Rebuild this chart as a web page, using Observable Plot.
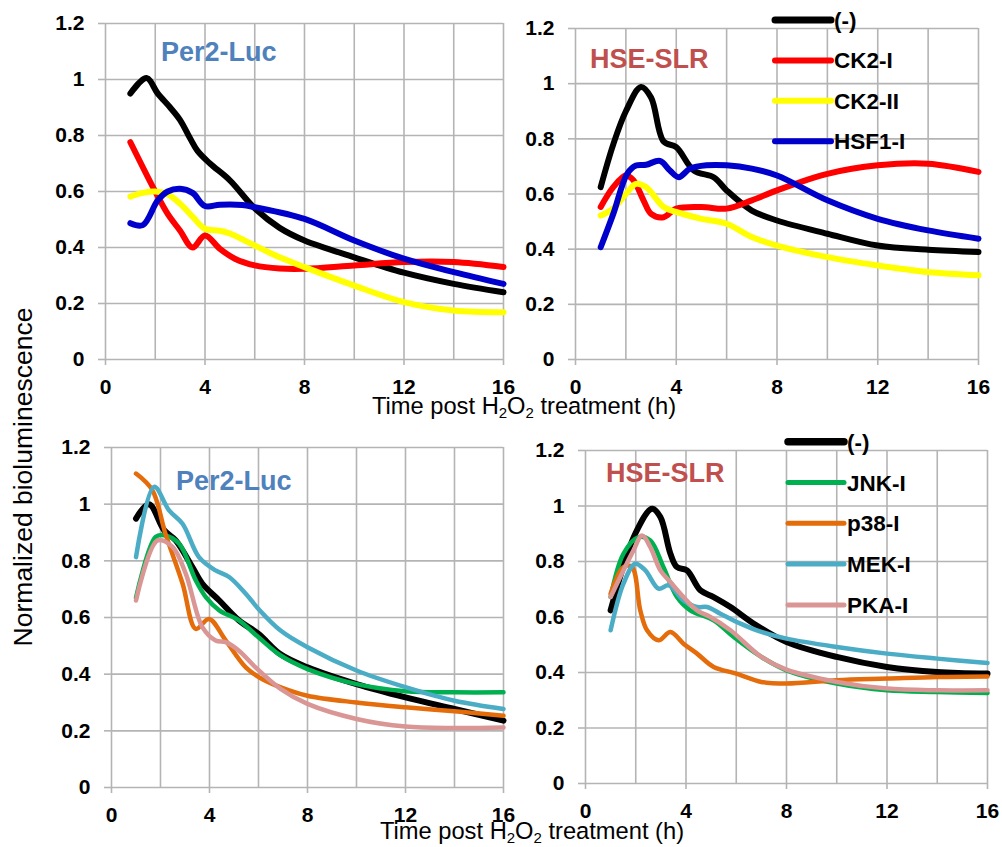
<!DOCTYPE html>
<html>
<head>
<meta charset="utf-8">
<script src="https://cdn.jsdelivr.net/npm/d3@7"></script>
<script src="https://cdn.jsdelivr.net/npm/@observablehq/plot@0.6"></script>
<style>
  body { margin: 0; background: #fff; }
  #root { position: relative; width: 1002px; height: 847px; overflow: hidden; background: #fff; }
  .panel { position: absolute; }
  .panel svg { background: transparent !important; overflow: visible; }
  #overlay { position: absolute; left: 0; top: 0; pointer-events: none; }
</style>
</head>
<body>
<div id="root"></div>
<script>
// ---------- DATA (hours, normalized bioluminescence) ----------
const xTicks = [0, 4, 8, 12, 16];
const xGrid = [0, 2, 4, 6, 8, 10, 12, 14, 16];
const yTicks = [0, 0.2, 0.4, 0.6, 0.8, 1.0, 1.2];

// Top-left: Per2-Luc, CK2 / HSF1 inhibitors
const p1Ctrl = [[1,0.95],[1.65,1.005],[2.1,0.95],[2.6,0.90],[3,0.855],[3.4,0.79],[3.7,0.745],[4.2,0.70],[5,0.64],[6,0.54],[7,0.47],[8,0.425],[10,0.365],[12,0.31],[14,0.27],[16,0.24]];
const p1CK2I = [[1,0.776],[2,0.60],[2.5,0.52],[3,0.46],[3.5,0.40],[4,0.443],[4.6,0.395],[5.2,0.36],[6,0.336],[7,0.325],[8,0.324],[10,0.336],[12,0.348],[14,0.348],[16,0.33]];
const p1CK2II = [[1,0.582],[1.5,0.595],[2,0.60],[2.5,0.59],[3,0.556],[3.5,0.51],[4,0.467],[4.6,0.46],[5,0.45],[6,0.407],[7,0.365],[8,0.33],[10,0.264],[12,0.205],[14,0.175],[16,0.169]];
const p1HSF1 = [[1,0.487],[1.5,0.48],[2.1,0.568],[2.5,0.60],[3,0.61],[3.5,0.595],[4,0.548],[4.6,0.553],[5.5,0.552],[6,0.544],[8,0.502],[10,0.425],[12,0.36],[14,0.312],[16,0.27]];

// Top-right: HSE-SLR, CK2 / HSF1 inhibitors
const p2Ctrl = [[1,0.625],[1.5,0.78],[2,0.90],[2.6,0.988],[3,0.95],[3.5,0.79],[4,0.77],[4.7,0.685],[5.5,0.66],[6,0.613],[7,0.54],[8,0.504],[10,0.456],[12,0.413],[14,0.398],[16,0.39]];
const p2CK2I = [[1,0.553],[1.5,0.625],[2,0.667],[2.3,0.65],[2.7,0.577],[3,0.528],[3.5,0.516],[4,0.547],[5,0.553],[6,0.547],[7,0.577],[8,0.613],[10,0.673],[12,0.704],[14,0.71],[16,0.68]];
const p2CK2II = [[1,0.522],[1.5,0.547],[2,0.60],[2.4,0.637],[2.8,0.625],[3.5,0.553],[4,0.535],[5,0.51],[6,0.492],[7,0.444],[8,0.413],[10,0.371],[12,0.341],[14,0.317],[16,0.305]];
const p2HSF1 = [[1,0.407],[1.5,0.528],[2.05,0.673],[2.4,0.703],[2.8,0.706],[3.35,0.72],[3.75,0.685],[4.1,0.661],[4.55,0.692],[5.2,0.704],[6,0.704],[7,0.692],[8,0.667],[10,0.577],[12,0.51],[14,0.468],[16,0.438]];

// Bottom-left: Per2-Luc, kinase inhibitors
const p3Ctrl = [[1,0.949],[1.53,1.0],[2.15,0.908],[2.62,0.872],[3.3,0.778],[3.7,0.72],[4.4,0.66],[5.2,0.59],[6,0.542],[6.9,0.47],[8,0.424],[10,0.365],[12,0.318],[14,0.277],[16,0.236]];
const p3JNK = [[1,0.67],[1.8,0.884],[2.15,0.89],[2.76,0.86],[3.44,0.731],[3.85,0.672],[4.4,0.625],[5.2,0.59],[6,0.53],[6.9,0.466],[8,0.418],[10,0.365],[12,0.34],[14,0.336],[16,0.336]];
const p3p38 = [[1,1.108],[1.67,1.049],[2.2,0.896],[2.9,0.72],[3.44,0.56],[3.98,0.595],[4.66,0.519],[5.48,0.424],[6.2,0.38],[6.9,0.354],[8,0.324],[10,0.30],[12,0.283],[14,0.269],[16,0.253]];
const p3MEK = [[1,0.813],[1.74,1.061],[2.35,0.978],[2.9,0.931],[3.57,0.813],[4.25,0.766],[4.8,0.743],[5.48,0.684],[6,0.63],[6.9,0.554],[8,0.495],[10,0.413],[12,0.354],[14,0.306],[16,0.277]];
const p3PKA = [[1,0.66],[1.88,0.872],[2.49,0.849],[3.03,0.755],[3.71,0.566],[4.25,0.519],[4.66,0.513],[5.2,0.483],[5.88,0.424],[6.9,0.348],[8,0.295],[10,0.242],[12,0.215],[14,0.21],[16,0.212]];

// Bottom-right: HSE-SLR, kinase inhibitors
const p4Ctrl = [[1,0.624],[1.98,0.90],[2.65,0.99],[2.98,0.96],[3.38,0.828],[3.64,0.78],[4.04,0.768],[4.57,0.696],[5.1,0.672],[5.77,0.636],[6.7,0.576],[8,0.51],[10,0.456],[12,0.42],[14,0.402],[16,0.396]];
const p4JNK = [[1,0.672],[1.51,0.828],[2.11,0.888],[2.58,0.876],[3.1,0.78],[3.64,0.672],[4.17,0.624],[5.1,0.588],[5.9,0.528],[7,0.456],[8,0.408],[10,0.36],[12,0.336],[14,0.33],[16,0.326]];
const p4p38 = [[1,0.684],[1.51,0.78],[1.85,0.78],[2.18,0.624],[2.45,0.552],[2.91,0.516],[3.38,0.546],[3.9,0.504],[4.44,0.468],[5.1,0.42],[6,0.396],[7,0.366],[8,0.36],[10,0.372],[12,0.378],[14,0.384],[16,0.386]];
const p4MEK = [[1,0.552],[1.51,0.72],[1.98,0.792],[2.38,0.768],[2.91,0.702],[3.31,0.714],[3.9,0.66],[4.44,0.636],[4.84,0.636],[5.37,0.612],[6.17,0.576],[7,0.546],[8,0.522],[10,0.492],[12,0.468],[14,0.45],[16,0.434]];
const p4PKA = [[1,0.672],[1.51,0.768],[1.91,0.84],[2.25,0.894],[2.58,0.852],[2.98,0.768],[3.38,0.726],[3.9,0.672],[4.44,0.624],[4.97,0.60],[5.77,0.552],[7,0.456],[8,0.41],[10,0.366],[12,0.342],[14,0.336],[16,0.336]];

const topNames = ["(-)", "CK2-I", "CK2-II", "HSF1-I"];
const topColors = ["#000000", "#FF0000", "#FFFF00", "#0000CC"];
const bottomNames = ["(-)", "JNK-I", "p38-I", "MEK-I", "PKA-I"];
const bottomColors = ["#000000", "#00B050", "#E46C0A", "#4BACC6", "#D99694"];
const reporterNames = ["Per2-Luc", "HSE-SLR"];
const reporterColors = ["#4F81BD", "#C0504D"];

// ---------- DRAWING ----------
const FONT = '"Liberation Sans", Arial, Helvetica, sans-serif';
const GRID = "#b4b4b4";
const root = document.getElementById("root");
const fmt = d => String(+(+d).toFixed(1));

function panel(seriesList, colors, widths, pos) {
  const marks = [
    Plot.gridX(xGrid, {stroke: GRID, strokeOpacity: 1, strokeWidth: 1.6}),
    Plot.gridY(yTicks, {stroke: GRID, strokeOpacity: 1, strokeWidth: 1.6}),
    Plot.axisX(xTicks, {tickSize: 6, tickPadding: 14, stroke: GRID, strokeWidth: 1.6, fill: "black", tickFormat: fmt, label: null}),
    Plot.axisY(yTicks, {tickSize: 7, tickPadding: 14, stroke: GRID, strokeWidth: 1.6, fill: "black", tickFormat: fmt, label: null})
  ];
  seriesList.forEach((s, i) => {
    marks.push(Plot.line(s, {x: d => d[0], y: d => d[1], stroke: colors[i], strokeWidth: widths[i],
      curve: "catmull-rom", strokeLinecap: "round", strokeLinejoin: "round"}));
  });
  const chart = Plot.plot({
    width: pos.w, height: pos.h,
    marginLeft: pos.ml, marginRight: pos.mr, marginTop: pos.mt, marginBottom: pos.mb,
    x: {domain: [0, 16], label: null},
    y: {domain: [0, 1.2], label: null},
    style: {fontFamily: FONT, fontSize: "21px", fontWeight: "bold", background: "transparent", overflow: "visible", color: "black"},
    marks
  });
  const div = document.createElement("div");
  div.className = "panel";
  div.style.left = pos.left + "px";
  div.style.top = pos.top + "px";
  div.appendChild(chart);
  root.appendChild(div);
}

panel([p1Ctrl, p1CK2I, p1CK2II, p1HSF1], topColors, [6, 6, 6, 6],
  {left: 0, top: 0, w: 520, h: 400, ml: 105, mr: 17, mt: 23, mb: 41});
panel([p2Ctrl, p2CK2I, p2CK2II, p2HSF1], topColors, [6, 6, 6, 6],
  {left: 520, top: 0, w: 482, h: 400, ml: 55, mr: 24, mt: 28, mb: 41});
panel([p3Ctrl, p3JNK, p3p38, p3MEK, p3PKA], bottomColors, [6, 4.5, 4.5, 4.5, 4.5],
  {left: 0, top: 420, w: 520, h: 400, ml: 111, mr: 17, mt: 27, mb: 33});
panel([p4Ctrl, p4JNK, p4p38, p4MEK, p4PKA], bottomColors, [6, 4.5, 4.5, 4.5, 4.5],
  {left: 520, top: 420, w: 482, h: 400, ml: 65, mr: 15, mt: 30, mb: 37});

// ---------- OVERLAY: titles, legends, reporter labels ----------
const svg = d3.select(root).append("svg").attr("id", "overlay")
  .attr("width", 1002).attr("height", 847)
  .style("font-family", FONT);

// reporter labels
const repPos = [[161, 61, 0], [590, 68, 1], [176, 490, 0], [606, 482, 1]];
repPos.forEach(([x, y, k]) => {
  svg.append("text").attr("x", x).attr("y", y).attr("fill", reporterColors[k])
    .attr("font-size", 27).attr("font-weight", "bold").text(reporterNames[k]);
});

// legends
function legend(names, colors, widths, x0, x1, y0, step) {
  names.forEach((n, i) => {
    const y = y0 + i * step;
    svg.append("line").attr("x1", x0).attr("x2", x1).attr("y1", y).attr("y2", y)
      .attr("stroke", colors[i]).attr("stroke-width", widths[i]).attr("stroke-linecap", "round");
    svg.append("text").attr("x", x1 + 3).attr("y", y + 8).attr("font-size", 22.5)
      .attr("font-weight", "bold").attr("fill", "black").text(n);
  });
}
legend(topNames, topColors, [7, 6, 6, 6], 775, 831, 20, 40.4);
legend(bottomNames, bottomColors, [7.5, 5, 5, 5, 5], 788, 844, 441.7, 40.8);

// axis titles
function xTitle(cx, y) {
  const t = svg.append("text").attr("x", cx).attr("y", y).attr("text-anchor", "middle")
    .attr("font-size", 23.7).attr("fill", "black");
  t.append("tspan").text("Time post H");
  t.append("tspan").attr("font-size", 15).attr("dy", 4).text("2");
  t.append("tspan").attr("dy", -4).text("O");
  t.append("tspan").attr("font-size", 15).attr("dy", 4).text("2");
  t.append("tspan").attr("dy", -4).text(" treatment (h)");
}
xTitle(524, 414);
xTitle(532, 839);

svg.append("text").attr("transform", "translate(32,477) rotate(-90)")
  .attr("text-anchor", "middle").attr("font-size", 26.5).attr("fill", "black")
  .text("Normalized bioluminescence");
</script>
</body>
</html>
